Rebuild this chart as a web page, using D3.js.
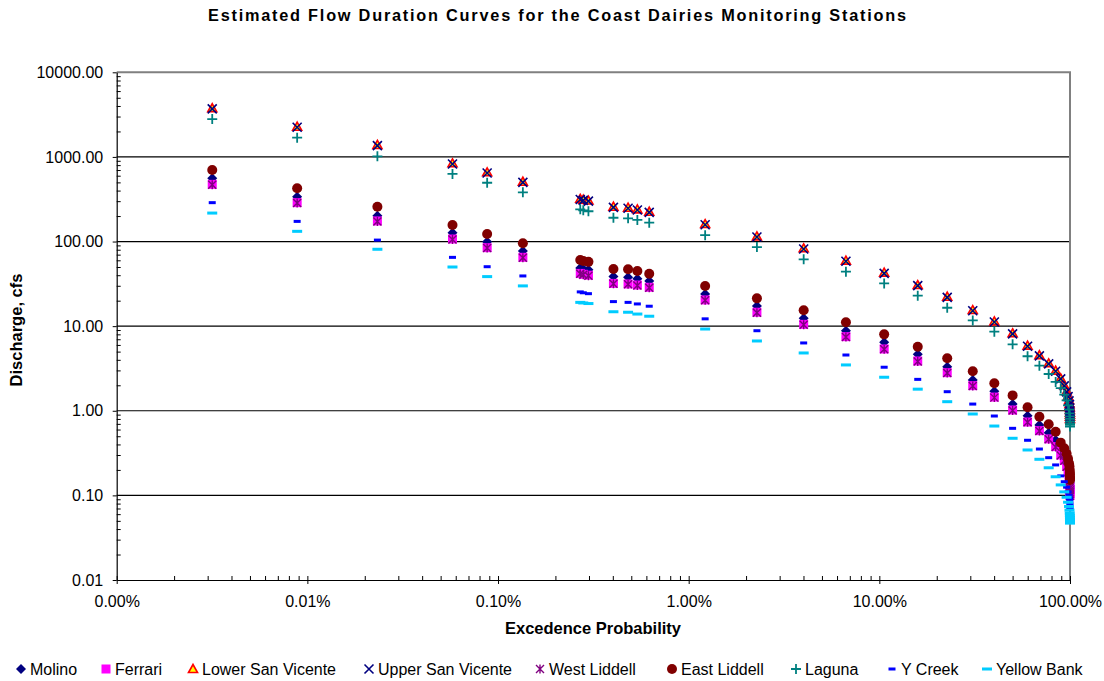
<!DOCTYPE html>
<html>
<head>
<meta charset="utf-8">
<script src="https://cdn.jsdelivr.net/npm/d3@7"></script>
<style>
  body { margin: 0; background: #fff; }
  svg { font-family: "Liberation Sans", Arial, sans-serif; }
</style>
</head>
<body>
<svg id="chart" width="1104" height="681"></svg>
<script>
// exceedence probability of each plotted point (fraction)
const probs = [3.17e-5, 8.84e-5, 2.33e-4, 5.77e-4, 8.77e-4, 1.35e-3, 2.70e-3, 2.80e-3, 2.98e-3,
  4.03e-3, 4.81e-3, 5.38e-3, 6.21e-3, 0.0122, 0.0228, 0.0401, 0.0668, 0.106, 0.159, 0.227,
  0.309, 0.401, 0.50, 0.599, 0.691, 0.773, 0.841, 0.894, 0.933, 0.960, 0.977, 0.988, 0.9938,
  0.9970, 0.99865, 0.99942, 0.99977, 0.99991, 0.99997];

// discharge, cfs
const molino = [558, 339, 202, 127, 99.6, 77.3, 48.5, 47.5, 46.5, 38.5, 37.8, 36.4, 34.2, 24, 17.3,
  12.4, 8.83, 6.45, 4.65, 3.32, 2.31, 1.70, 1.20, 0.875, 0.68, 0.551, 0.452, 0.37, 0.32, 0.27,
  0.23, 0.20, 0.18, 0.16, 0.15, 0.14, 0.13, 0.125, 0.12];
const ferrari = [474, 288, 175, 107, 84.6, 65.1, 42, 41, 40, 32, 31.5, 30.6, 28.8, 20.4, 14.6,
  10.5, 7.51, 5.37, 3.87, 2.82, 1.98, 1.45, 1.02, 0.736, 0.582, 0.465, 0.377, 0.30, 0.26, 0.22,
  0.19, 0.165, 0.148, 0.135, 0.125, 0.117, 0.11, 0.105, 0.10];
const lowerSanVicente = [3760, 2275, 1384, 841, 658, 509, 320, 312, 305, 258, 251, 240, 225, 161,
  115, 83.2, 59.4, 42.9, 30.6, 22.3, 15.5, 11.4, 8.24, 5.88, 4.53, 3.64, 2.98, 2.42, 2.0, 1.7,
  1.5, 1.33, 1.2, 1.1, 1.02, 0.95, 0.9, 0.85, 0.8];
const upperSanVicente = [3700, 2240, 1360, 826, 646, 500, 314, 306, 300, 253, 247, 236, 221, 158,
  113, 81.7, 58.4, 42.1, 30.1, 21.9, 15.2, 11.2, 8.1, 5.78, 4.45, 3.58, 2.93, 2.38, 1.97, 1.67,
  1.47, 1.31, 1.18, 1.08, 1.0, 0.94, 0.89, 0.84, 0.79];
const westLiddell = [470, 285, 173, 106, 84, 64.5, 41.5, 40.5, 39.5, 31.7, 31.2, 30.3, 28.5, 20.2,
  14.4, 10.4, 7.45, 5.32, 3.83, 2.79, 1.96, 1.43, 1.01, 0.73, 0.576, 0.46, 0.373, 0.297, 0.257,
  0.218, 0.188, 0.163, 0.146, 0.133, 0.123, 0.115, 0.108, 0.103, 0.098];
const eastLiddell = [700, 426, 258, 157, 123, 95.3, 60.5, 59, 57.5, 47.4, 47, 44.9, 41.7, 29.8,
  21.3, 15.4, 11.1, 8.0, 5.71, 4.17, 2.93, 2.11, 1.52, 1.10, 0.851, 0.692, 0.566, 0.42, 0.36,
  0.31, 0.27, 0.24, 0.22, 0.20, 0.185, 0.175, 0.165, 0.158, 0.152];
const laguna = [2800, 1687, 1016, 629, 495, 382, 240, 234, 228, 191, 188, 180, 167, 119, 86,
  61.7, 44, 32, 22.9, 16.5, 11.7, 8.6, 6.1, 4.41, 3.41, 2.72, 2.19, 1.85, 1.55, 1.33, 1.16,
  1.03, 0.93, 0.86, 0.8, 0.75, 0.71, 0.68, 0.65];
const yCreek = [288, 173, 104, 65, 50.4, 39.2, 25.4, 24.8, 24.2, 19.5, 19.1, 18.3, 17.2, 12.2,
  8.83, 6.33, 4.56, 3.27, 2.35, 1.68, 1.20, 0.867, 0.62, 0.448, 0.353, 0.279, 0.229, 0.17, 0.145,
  0.125, 0.11, 0.10, 0.092, 0.086, 0.081, 0.077, 0.074, 0.071, 0.068];
const yellowBank = [217, 132, 81, 50, 38.5, 29.9, 19.1, 18.8, 18.5, 14.8, 14.6, 13.9, 13.1, 9.25,
  6.68, 4.82, 3.48, 2.49, 1.80, 1.28, 0.916, 0.66, 0.473, 0.344, 0.267, 0.212, 0.166, 0.133,
  0.11, 0.095, 0.083, 0.074, 0.067, 0.062, 0.058, 0.055, 0.052, 0.05, 0.047];

const seriesNames = ['Molino', 'Ferrari', 'Lower San Vicente', 'Upper San Vicente', 'West Liddell',
  'East Liddell', 'Laguna', 'Y Creek', 'Yellow Bank'];
const seriesValues = [molino, ferrari, lowerSanVicente, upperSanVicente, westLiddell,
  eastLiddell, laguna, yCreek, yellowBank];

const yTicks = [0.01, 0.1, 1, 10, 100, 1000, 10000];
const xTicks = [1e-5, 1e-4, 1e-3, 1e-2, 1e-1, 1];

// marker style per series
const markers = [
  { shape: 'diamond', color: '#000080' },
  { shape: 'square', color: '#ff00ff' },
  { shape: 'triangle', color: '#ff0000', fill: '#ffff00' },
  { shape: 'x', color: '#000080' },
  { shape: 'star', color: '#800080' },
  { shape: 'circle', color: '#800000' },
  { shape: 'plus', color: '#008080' },
  { shape: 'dash', color: '#0000ff', w: 7 },
  { shape: 'dash', color: '#00ccff', w: 10 },
];
const legendX = [21, 106, 193, 369, 540, 672, 796, 892, 987];

const svg = d3.select('#chart');
const plot = { left: 116.7, right: 1070, top: 72.3, bottom: 580 };

const x = d3.scaleLog().domain([1e-5, 1]).range([plot.left, plot.right]);
const y = d3.scaleLog().domain([0.01, 10000]).range([plot.bottom, plot.top]);

// minor tick values (2..9 of each decade)
const minorVals = (lo, hi) => {
  const out = [];
  for (let e = lo; e < hi; e++) for (let k = 2; k <= 9; k++) out.push(k * Math.pow(10, e));
  return out;
};

// gridlines
svg.append('g')
  .selectAll('line')
  .data(yTicks.slice(1, -1))
  .enter()
  .append('line')
  .attr('x1', plot.left).attr('x2', plot.right)
  .attr('y1', (d) => y(d)).attr('y2', (d) => y(d))
  .attr('stroke', '#000').attr('stroke-width', 1.2);

// top and right border of the plot area
svg.append('path')
  .attr('d', `M${plot.left},${plot.top}H${plot.right}V${plot.bottom}`)
  .attr('fill', 'none').attr('stroke', '#808080').attr('stroke-width', 2);

// y axis
const yAxis = svg.append('g')
  .attr('transform', `translate(${plot.left},0)`)
  .call(d3.axisLeft(y).tickValues(yTicks).tickFormat(d3.format('.2f')).tickSizeInner(4).tickSizeOuter(0));
svg.append('g')
  .attr('transform', `translate(${plot.left},0)`)
  .call(d3.axisLeft(y).tickValues(minorVals(-2, 4)).tickFormat('').tickSizeInner(-4).tickSizeOuter(0))
  .select('.domain').remove();

// x axis
const xAxis = svg.append('g')
  .attr('transform', `translate(0,${plot.bottom})`)
  .call(d3.axisBottom(x).tickValues(xTicks).tickFormat(d3.format('.2%')).tickSizeInner(4).tickSizeOuter(0));
svg.append('g')
  .attr('transform', `translate(0,${plot.bottom})`)
  .call(d3.axisBottom(x).tickValues(minorVals(-5, 0).concat(xTicks)).tickFormat('').tickSizeInner(-4).tickSizeOuter(0))
  .select('.domain').remove();

svg.selectAll('.domain').attr('stroke', '#000').attr('stroke-width', 1.2);
svg.selectAll('.tick line').attr('stroke', '#000');
yAxis.selectAll('text').attr('font-size', 16).attr('fill', '#000').attr('x', -13.5);
xAxis.selectAll('text').attr('font-size', 16).attr('fill', '#000').attr('y', 16);

// marker drawing
function drawMarker(g, m) {
  switch (m.shape) {
    case 'diamond':
      g.append('path').attr('d', 'M0,-5L5,0L0,5L-5,0Z').attr('fill', m.color);
      break;
    case 'square':
      g.append('rect').attr('x', -4.5).attr('y', -4.5).attr('width', 9).attr('height', 9).attr('fill', m.color);
      break;
    case 'triangle':
      g.append('path').attr('d', 'M0,-4.5L4.5,3.5L-4.5,3.5Z')
        .attr('fill', m.fill).attr('stroke', m.color).attr('stroke-width', 1.6);
      break;
    case 'x':
      g.append('path').attr('d', 'M-4.5,-4.5L4.5,4.5M4.5,-4.5L-4.5,4.5')
        .attr('stroke', m.color).attr('stroke-width', 1.6).attr('fill', 'none');
      break;
    case 'star':
      g.append('path').attr('d', 'M-4,-4L4,4M4,-4L-4,4M0,-4.5V4.5')
        .attr('stroke', m.color).attr('stroke-width', 1.4).attr('fill', 'none');
      break;
    case 'circle':
      g.append('circle').attr('r', 5).attr('fill', m.color);
      break;
    case 'plus':
      g.append('path').attr('d', 'M-5,0H5M0,-5V5')
        .attr('stroke', m.color).attr('stroke-width', 1.8).attr('fill', 'none');
      break;
    case 'dash':
      g.append('rect').attr('x', -m.w / 2).attr('y', -1.5).attr('width', m.w).attr('height', 3).attr('fill', m.color);
      break;
  }
}

// points
seriesValues.forEach((vals, i) => {
  const g = svg.append('g').attr('class', 'series');
  vals.forEach((v, j) => {
    const pt = g.append('g').attr('transform', `translate(${x(probs[j])},${y(v)})`);
    drawMarker(pt, markers[i]);
  });
});

// titles
svg.append('text')
  .attr('x', 208).attr('y', 21)
  .attr('textLength', 698).attr('lengthAdjust', 'spacing')
  .attr('font-size', 16.3).attr('font-weight', 'bold')
  .text('Estimated Flow Duration Curves for the Coast Dairies Monitoring Stations');

svg.append('text')
  .attr('x', 593).attr('y', 634)
  .attr('text-anchor', 'middle')
  .attr('font-size', 16.5).attr('font-weight', 'bold')
  .text('Excedence Probability');

svg.append('text')
  .attr('transform', 'translate(22,330) rotate(-90)')
  .attr('text-anchor', 'middle')
  .attr('font-size', 16.5).attr('font-weight', 'bold')
  .text('Discharge, cfs');

// legend
const legend = svg.append('g').attr('transform', 'translate(0,669)');
seriesNames.forEach((name, i) => {
  const item = legend.append('g').attr('transform', `translate(${legendX[i]},0)`);
  drawMarker(item, markers[i]);
  item.append('text')
    .attr('x', 9).attr('dy', '0.36em')
    .attr('font-size', 16)
    .text(name);
});
</script>
</body>
</html>
